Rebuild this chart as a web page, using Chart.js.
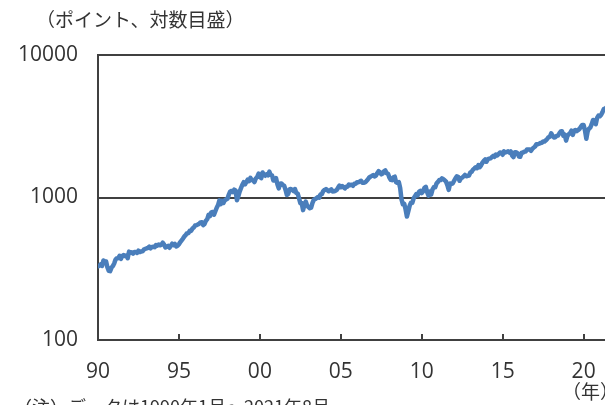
<!DOCTYPE html>
<html>
<head>
<meta charset="utf-8">
<script src="https://cdn.jsdelivr.net/npm/chart.js@4.4.0/dist/chart.umd.min.js"></script>
<style>
  html, body { margin:0; padding:0; background:#fff; overflow:hidden; width:605px; height:405px; }
  #wrap { position:absolute; left:0; top:0; width:625px; height:405px; }
  .lbl { position:absolute; font-family:"Noto Sans CJK JP", sans-serif; color:#333; white-space:nowrap; }
</style>
</head>
<body>
<div id="wrap"><canvas id="c"></canvas></div>
<div class="lbl" style="left:36px; top:5px; font-size:19px;">（ポイント、対数目盛）</div>
<div class="lbl" style="left:562px; top:377px; font-size:19px;">（年）</div>
<div class="lbl" style="left:14px; top:393px; font-size:18px;">（注）データは1990年1月～2021年8月</div>
<script>
// monthly index level, Jan..Dec of each year
const startYear = 1990;
const lv1990s = [
  329,332,340,331,361,358,356,323,306,304,322,330,
  344,367,375,375,390,371,388,395,388,392,375,417,
  409,413,404,415,415,408,424,414,418,419,431,436,
  439,443,452,440,450,451,448,464,459,468,462,466,
  482,467,446,451,457,444,458,475,463,472,454,459,
  470,487,501,515,533,545,562,562,584,582,605,616,
  636,640,646,654,669,671,640,652,687,705,757,741,
  786,791,757,801,848,885,954,899,947,915,955,970,
  980,1049,1102,1112,1091,1134,1121,957,1017,1099,1164,1229,
  1280,1238,1286,1335,1302,1373,1329,1320,1283,1363,1389,1469
];
const lv2000s = [
  1394,1366,1499,1452,1421,1455,1431,1518,1437,1429,1315,1320,
  1366,1240,1160,1249,1256,1224,1211,1134,1041,1060,1139,1148,
  1130,1107,1147,1077,1067,990,912,916,815,886,936,880,
  856,841,848,917,964,975,990,1008,996,1051,1058,1112,
  1131,1145,1126,1107,1121,1141,1102,1104,1115,1130,1174,1212,
  1181,1204,1181,1157,1192,1191,1234,1220,1229,1207,1249,1248,
  1280,1281,1295,1311,1270,1270,1277,1304,1336,1378,1401,1418,
  1438,1407,1421,1482,1531,1503,1455,1474,1527,1549,1481,1468,
  1379,1331,1323,1386,1400,1280,1267,1283,1166,969,896,903,
  826,735,798,873,919,919,987,1021,1057,1036,1096,1115
];
const lv2010s = [
  1074,1104,1169,1187,1089,1031,1102,1049,1141,1183,1181,1258,
  1286,1327,1326,1364,1345,1321,1292,1219,1131,1253,1247,1258,
  1312,1366,1408,1398,1310,1362,1379,1406,1441,1412,1416,1426,
  1498,1515,1569,1598,1631,1606,1686,1633,1682,1757,1806,1848,
  1783,1859,1872,1884,1924,1960,1931,2003,1972,2018,2068,2059,
  1995,2105,2068,2086,2107,2063,2104,1972,1920,2079,2080,2044,
  1940,1932,2060,2065,2097,2099,2174,2171,2168,2126,2199,2239,
  2279,2364,2363,2384,2412,2423,2470,2472,2519,2575,2648,2674,
  2824,2714,2641,2648,2705,2718,2816,2902,2914,2712,2760,2507,
  2704,2784,2834,2946,2752,2942,2980,2926,2977,3038,3141,3231
];
const lv2020s = [
  3226,2954,2585,2912,3044,3100,3271,3500,3363,3270,3622,3756,
  3714,3811,3973,4181,4204,4298,4395,4523
];
const xTicks = [1990, 1995, 2000, 2005, 2010, 2015, 2020];
const yTicks = [100, 1000, 10000];

const levels = [...lv1990s, ...lv2000s, ...lv2010s, ...lv2020s];
const points = levels.map((v, i) => ({x: startYear + i / 12, y: v}));

const axisCol = '#404040';
const tickFont = {family: '"Open Sans", sans-serif', size: 21};

// short tick marks pointing up into the plot from the x axis
const innerTicks = {
  id: 'innerTicks',
  afterDatasetsDraw(chart) {
    const {ctx, chartArea, scales} = chart;
    ctx.save();
    ctx.strokeStyle = axisCol;
    ctx.lineWidth = 2;
    xTicks.slice(1).forEach(t => {
      const px = Math.round(scales.x.getPixelForValue(t));
      ctx.beginPath();
      ctx.moveTo(px, chartArea.bottom);
      ctx.lineTo(px, chartArea.bottom - 6);
      ctx.stroke();
    });
    ctx.restore();
  }
};

new Chart(document.getElementById('c'), {
  type: 'line',
  data: {
    datasets: [{
      data: points,
      borderColor: 'rgb(74,126,187)',
      borderWidth: 4.5,
      borderJoinStyle: 'round',
      borderCapStyle: 'round',
      pointRadius: 0,
      tension: 0
    }]
  },
  options: {
    responsive: true,
    maintainAspectRatio: false,
    animation: false,
    events: [],
    layout: {padding: {top: 55, left: 0, right: 9, bottom: 0}},
    plugins: {legend: {display: false}, tooltip: {enabled: false}},
    scales: {
      x: {
        type: 'linear',
        min: 1990,
        max: 2022,
        afterBuildTicks: s => { s.ticks = xTicks.map(v => ({value: v})); },
        afterFit: s => { s.height = 65; },
        grid: {display: false},
        border: {display: true, color: axisCol, width: 2},
        ticks: {
          color: '#333',
          font: tickFont,
          padding: 11,
          maxRotation: 0,
          callback: v => String(v).slice(2)
        }
      },
      y: {
        type: 'logarithmic',
        min: 100,
        max: 10000,
        afterBuildTicks: s => { s.ticks = yTicks.map(v => ({value: v})); },
        afterFit: s => { s.width = 98; },
        grid: {color: axisCol, lineWidth: 2, drawTicks: false},
        border: {display: true, color: axisCol, width: 2},
        ticks: {
          color: '#333',
          font: tickFont,
          padding: 20,
          callback: v => String(v)
        }
      }
    }
  },
  plugins: [innerTicks]
});
</script>
</body>
</html>
